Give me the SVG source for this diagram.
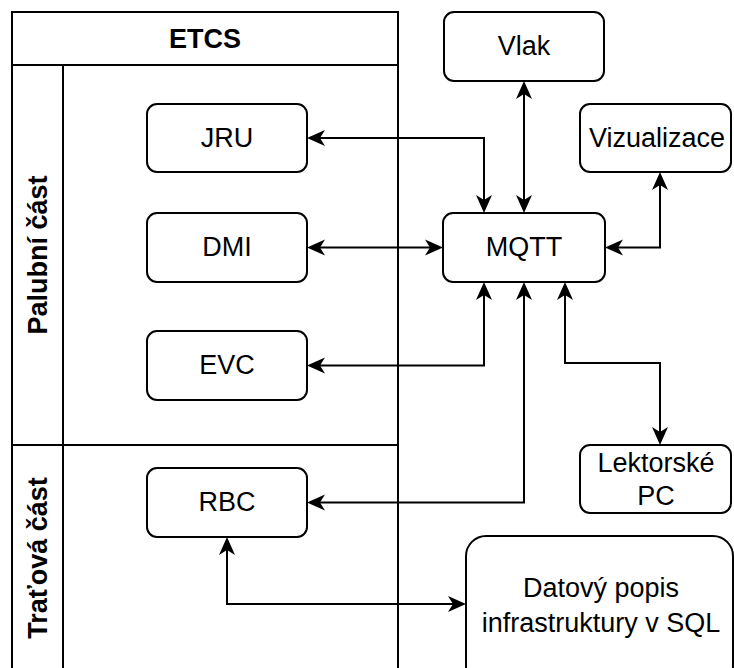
<svg xmlns="http://www.w3.org/2000/svg" width="734" height="668" viewBox="0 0 734 668">
  <style>
    .box { fill: #ffffff; stroke: #000000; stroke-width: 2; }
    .pool { fill: none; stroke: #000000; stroke-width: 2; }
    .lbl { font-family: "Liberation Sans", Arial, sans-serif; font-size: 27px; fill: #000000; text-anchor: middle; }
    .hdr { font-family: "Liberation Sans", Arial, sans-serif; font-size: 27px; font-weight: bold; fill: #000000; text-anchor: middle; }
    .conn { fill: none; stroke: #000000; stroke-width: 2; marker-start: url(#arrow); marker-end: url(#arrow); }
  </style>
  <defs>
    <marker id="arrow" markerUnits="userSpaceOnUse" viewBox="0 0 18 16" refX="8" refY="8" markerWidth="18" markerHeight="16" orient="auto-start-reverse" overflow="visible">
      <path d="M0,0 L18,8 L0,16 L5,8 Z" fill="#000000"/>
    </marker>
  </defs>

  <rect width="734" height="668" fill="#ffffff"/>

  <!-- ETCS pool with two lanes -->
  <g id="etcs">
    <rect class="pool" x="12" y="12" width="386" height="670"/>
    <line class="pool" x1="12" y1="65" x2="398" y2="65"/>
    <line class="pool" x1="63" y1="65" x2="63" y2="682"/>
    <line class="pool" x1="12" y1="445" x2="398" y2="445"/>
    <text class="hdr" x="205" y="48">ETCS</text>
  </g>
  <g id="lane-palubni">
    <text class="hdr" transform="translate(47,255) rotate(-90)">Palubní část</text>
  </g>
  <g id="lane-tratova">
    <text class="hdr" transform="translate(47,558) rotate(-90)">Traťová část</text>
  </g>

  <!-- connectors -->
  <g id="connectors">
    <path class="conn" d="M317,138 H484 V203"/>
    <path class="conn" d="M524,91 V203"/>
    <path class="conn" d="M317,247.5 H433"/>
    <path class="conn" d="M615,247.5 H660 V182"/>
    <path class="conn" d="M317,365.5 H484 V292"/>
    <path class="conn" d="M317,502.5 H524 V292"/>
    <path class="conn" d="M565,292 V363 H660 V435"/>
    <path class="conn" d="M227,547 V604 H456"/>
  </g>

  <!-- nodes -->
  <g id="jru">
    <rect class="box" x="147" y="104" width="160" height="68" rx="10"/>
    <text class="lbl" x="227" y="146.5">JRU</text>
  </g>
  <g id="dmi">
    <rect class="box" x="147" y="213" width="160" height="69" rx="10"/>
    <text class="lbl" x="227" y="256">DMI</text>
  </g>
  <g id="evc">
    <rect class="box" x="147" y="331" width="160" height="69" rx="10"/>
    <text class="lbl" x="227" y="374">EVC</text>
  </g>
  <g id="rbc">
    <rect class="box" x="147" y="468" width="160" height="69" rx="10"/>
    <text class="lbl" x="227" y="511">RBC</text>
  </g>
  <g id="vlak">
    <rect class="box" x="444" y="12" width="160" height="69" rx="10"/>
    <text class="lbl" x="524" y="55">Vlak</text>
  </g>
  <g id="mqtt">
    <rect class="box" x="443" y="213" width="162" height="69" rx="10"/>
    <text class="lbl" x="524" y="256">MQTT</text>
  </g>
  <g id="vizualizace">
    <rect class="box" x="580" y="104" width="151" height="68" rx="10"/>
    <text class="lbl" x="657" y="146.5">Vizualizace</text>
  </g>
  <g id="lektorske-pc">
    <rect class="box" x="580" y="445" width="151" height="68" rx="10"/>
    <text class="lbl" x="656" y="471.5">Lektorské</text>
    <text class="lbl" x="656" y="505">PC</text>
  </g>
  <g id="datovy-popis">
    <rect class="box" x="466" y="536" width="267" height="150" rx="20"/>
    <text class="lbl" x="601" y="597">Datový popis</text>
    <text class="lbl" x="601" y="632">infrastruktury v SQL</text>
  </g>
</svg>
